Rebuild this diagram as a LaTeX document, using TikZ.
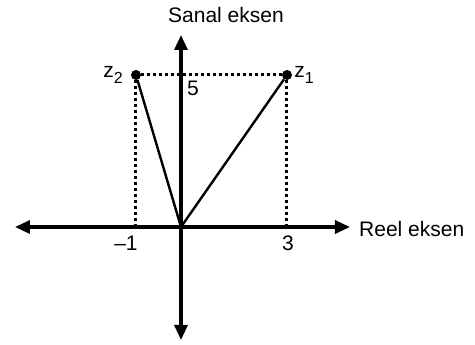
\documentclass[tikz,border=0pt]{standalone}
\usepackage{fontspec}
\setmainfont{Liberation Sans}
\usepackage{tikz}
\usetikzlibrary{arrows.meta}
\tikzset{vdot/.style={circle,fill=black,inner sep=0pt,minimum size=10pt},
         ax/.style={line width=3.2pt,-{Triangle[length=15pt,width=13pt]}},
         seg/.style={line width=2.4pt},
         dotline/.style={line width=3pt,dash pattern=on 3pt off 3pt},
         lab/.style={inner sep=0pt,font=\fontsize{21}{25}\selectfont},
         num/.style={inner sep=0pt,font=\fontsize{21}{25}\selectfont}
         }
\newcommand{\zlab}[1]{z\raisebox{-6pt}{\fontsize{16}{18}\selectfont #1}}

\begin{document}
\begin{tikzpicture}[x=1pt,y=1pt]
        \useasboundingbox (-181,-118) rectangle (294,227);
        \coordinate (O) at (0,0);
        \coordinate (L) at (-166,0);
        \coordinate (R) at (169,0);
        \coordinate (T) at (0,192);
        \coordinate (B) at (0,-113);
        \coordinate (F1) at (106,0);
        \coordinate (F2) at (-45,0);
        \node[vdot] (z1) at (106,152) {};
        \node[vdot] (z2) at (-45,152) {};

        \draw[dotline] (z2) -- (z1);
        \draw[dotline] (z2) -- (F2);
        \draw[dotline] (z1) -- (F1);
        \draw[ax] (O) -- (L);
        \draw[ax] (O) -- (R);
        \draw[ax] (O) -- (T);
        \draw[ax] (O) -- (B);
        \draw[seg] (O) -- (z1);
        \draw[seg] (O) -- (z2);

        \node[lab] (im) at (45,212) {Sanal eksen};
        \node[lab,anchor=west] (re) at (178,-2) {Reel eksen};
        \node[num] (m1) at (-55,-16) {--1};
        \node[num] (p3) at (107,-16) {3};
        \node[num] (p5) at (12,139) {5};
        \node[num] (l1) at (123,152) {\zlab{1}};
        \node[num] (l2) at (-68,152) {\zlab{2}};
\end{tikzpicture}
\end{document}
